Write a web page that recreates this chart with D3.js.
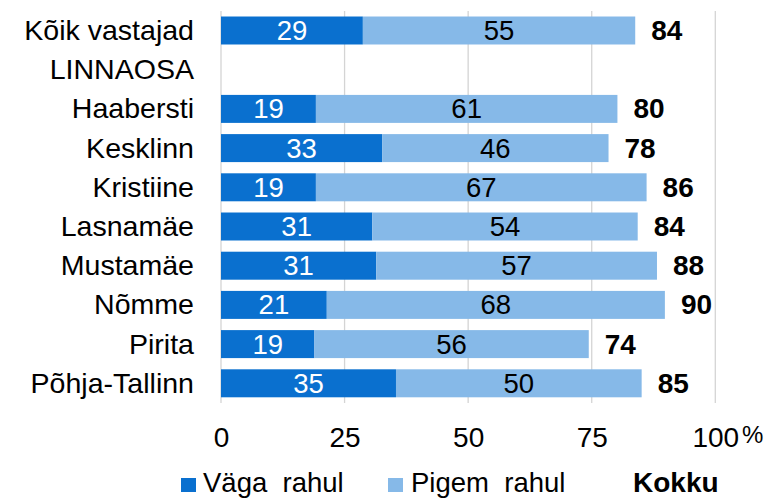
<!DOCTYPE html>
<html>
<head>
<meta charset="utf-8">
<script src="https://cdn.jsdelivr.net/npm/d3@7"></script>
<style>
  html, body { margin: 0; padding: 0; background: #fff; }
  svg { display: block; font-family: "Liberation Sans", Arial, sans-serif; }
</style>
</head>
<body>
<svg id="chart" width="773" height="498"></svg>
<script>
// Rahulolu linnaosade kaupa: Väga rahul + Pigem rahul, kokku paremal.
// Ribade pikkused on pildilt hinnatud (komakohtadega), sildid ümardatud.
const categories = ["Kõik vastajad", "LINNAOSA", "Haabersti", "Kesklinn", "Kristiine",
  "Lasnamäe", "Mustamäe", "Nõmme", "Pirita", "Põhja-Tallinn"];
const vagaRahul  = [28.7, null, 19.2, 32.6, 19.2, 30.6, 31.4, 21.4, 18.9, 35.4];
const pigemRahul = [55.1, null, 61.0, 45.8, 66.9, 53.7, 56.8, 68.4, 55.5, 49.7];
const kokku      = [84, null, 80, 78, 86, 84, 88, 90, 74, 85];
const xTicks = [0, 25, 50, 75, 100];
const seriesNames = ["Väga  rahul", "Pigem  rahul", "Kokku"];

const DARK = "#0A70CF";
const LIGHT = "#86B9E8";

const svg = d3.select("#chart");

const x = d3.scaleLinear().domain([0, 100]).range([221, 715.3]);
const y = d3.scaleBand().domain(categories)
  .range([10.9, 402.9]).paddingInner(0.286).paddingOuter(0.143);

const fmt = d3.format(".0f");

// abifunktsioon teksti jaoks (võimalik kerge horisontaalne venitus)
function addText(parent, px, py, str, o = {}) {
  const g = parent.append("g")
    .attr("transform", `translate(${px},${py}) scale(${o.sx || 1},1)`);
  return g.append("text")
    .attr("text-anchor", o.anchor || "start")
    .style("font-size", (o.size || 28) + "px")
    .style("font-weight", o.weight || "normal")
    .style("white-space", "pre")
    .attr("fill", o.fill || "#000")
    .text(str);
}

// ruudustik
const [gy0, gy1] = y.range();
svg.append("g").selectAll("line").data(xTicks).join("line")
  .attr("x1", (d) => x(d)).attr("x2", (d) => x(d))
  .attr("y1", gy0).attr("y2", gy1)
  .attr("stroke", "#d4d4d4").attr("stroke-width", 1.3);

// telg
const axis = svg.append("g").attr("transform", `translate(0,${gy1})`)
  .call(d3.axisBottom(x).tickValues(xTicks).tickSize(0).tickFormat(d3.format("d")));
axis.select(".domain").remove();
axis.selectAll("text")
  .attr("y", 44.5).attr("dy", 0)
  .style("font-size", "28px")
  .style("font-family", "'Liberation Sans', Arial, sans-serif")
  .attr("fill", "#000");
svg.append("text").attr("x", 742).attr("y", 443)
  .style("font-size", "24px").text("%");

// ribad
const rows = categories.map((c, i) => ({ c, v: vagaRahul[i], p: pigemRahul[i], k: kokku[i] }))
  .filter((d) => d.v != null);

svg.append("g").selectAll("rect").data(rows).join("rect")
  .attr("x", x(0)).attr("y", (d) => y(d.c))
  .attr("width", (d) => x(d.v) - x(0)).attr("height", y.bandwidth())
  .attr("fill", DARK);
svg.append("g").selectAll("rect").data(rows).join("rect")
  .attr("x", (d) => x(d.v)).attr("y", (d) => y(d.c))
  .attr("width", (d) => x(d.v + d.p) - x(d.v)).attr("height", y.bandwidth())
  .attr("fill", LIGHT);

const labels = svg.append("g");
rows.forEach((d) => {
  const cy = y(d.c) + y.bandwidth() / 2;
  addText(labels, (x(0) + x(d.v)) / 2, cy + 9.5, fmt(d.v), { anchor: "middle", size: 27, sx: 1.02, fill: "#fff" });
  addText(labels, (x(d.v) + x(d.v + d.p)) / 2, cy + 9.5, fmt(d.p), { anchor: "middle", size: 27, sx: 1.02 });
  addText(labels, x(d.v + d.p) + 16, cy + 9.5, d.k, { size: 28, weight: "bold" });
});

// kategooriate nimed
categories.forEach((c) => {
  addText(svg, 194, y(c) + y.bandwidth() / 2 + 9.5, c, { anchor: "end", size: 28, sx: 1.02 });
});

// legend
const leg = svg.append("g");
leg.append("rect").attr("x", 181).attr("y", 478).attr("width", 15).attr("height", 14).attr("fill", DARK);
addText(leg, 203, 492, seriesNames[0], { size: 27.5 });
leg.append("rect").attr("x", 388).attr("y", 478).attr("width", 15).attr("height", 14).attr("fill", LIGHT);
addText(leg, 411, 492, seriesNames[1], { size: 27.5 });
addText(leg, 633, 492, seriesNames[2], { size: 28, weight: "bold" });
</script>
</body>
</html>
